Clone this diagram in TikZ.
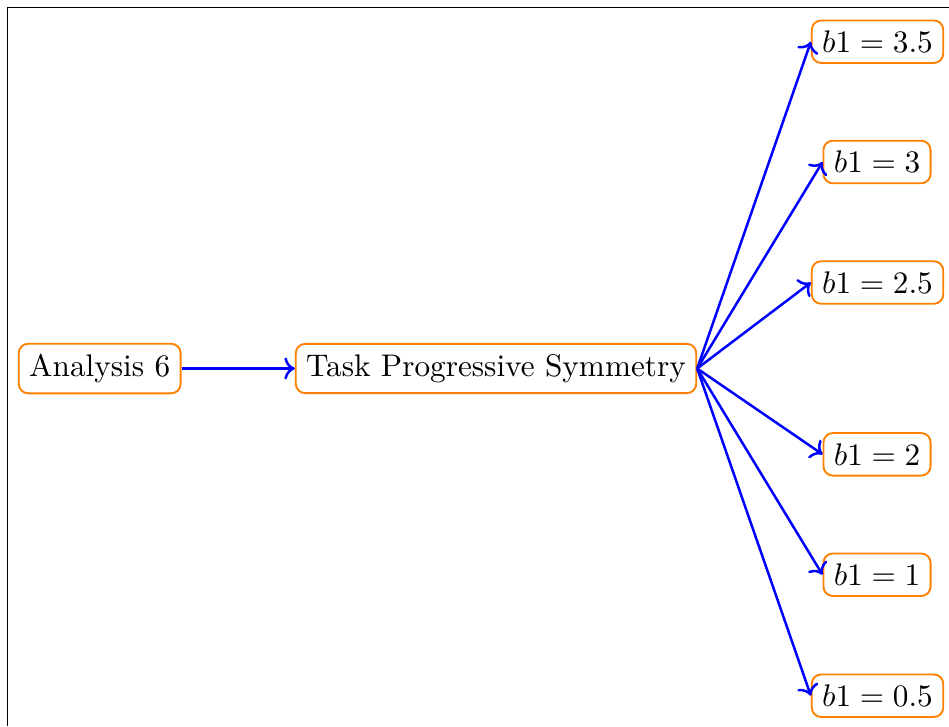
\documentclass[tikz,border=0pt]{standalone}
\usetikzlibrary{arrows.meta}
\begin{document}
\begin{tikzpicture}[x=0.32pt,y=-0.32pt,
  box/.style={draw=orange, semithick, rounded corners=3pt, fill=white, inner sep=3.33pt},
  link/.style={->, draw=blue, thick}]
\useasboundingbox (0,0) rectangle (949,726);
% partial frame along the left and top edges
\draw[line width=0.35pt] (7.5,726) -- (7.5,7.8) -- (949,7.8);
% nodes
\node[box] (ana) at (99.7,368.5) {Analysis 6};
\node[box] (task) at (496,368.5) {Task Progressive Symmetry};
\node[box] (b35) at (877.5,41.7) {$b1 = 3.5$};
\node[box] (b3) at (877,162) {$b1 = 3$};
\node[box] (b25) at (877.5,282.5) {$b1 = 2.5$};
\node[box] (b2) at (877,454.3) {$b1 = 2$};
\node[box] (b1) at (877,574.7) {$b1 = 1$};
\node[box] (b05) at (877.5,695.7) {$b1 = 0.5$};
% connectors
\draw[link] (ana) -- (task);
\foreach \t in {b35,b3,b25,b2,b1,b05}
  \draw[link] (task.east) -- (\t.west);
\end{tikzpicture}
\end{document}
